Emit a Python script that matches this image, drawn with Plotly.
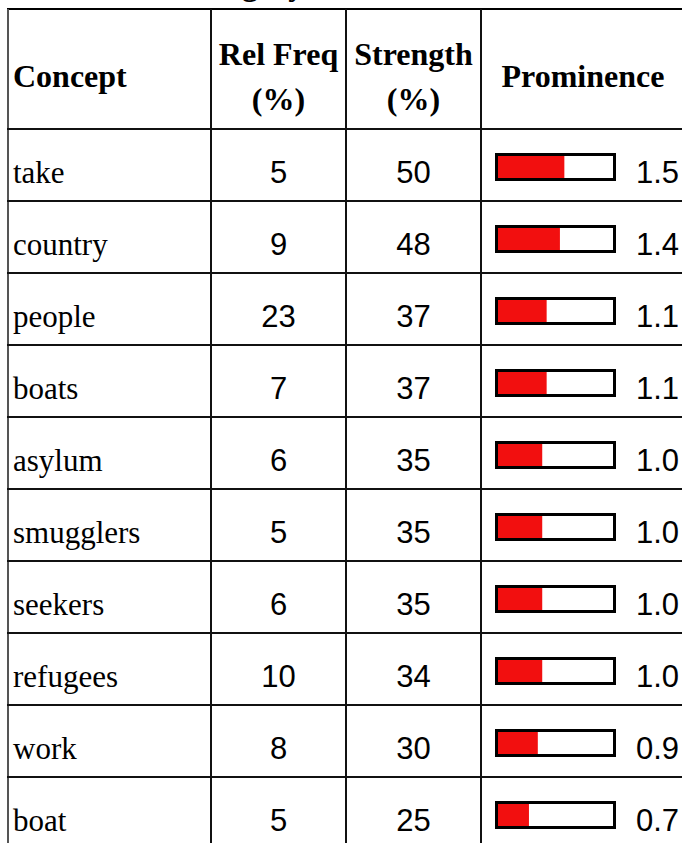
import plotly.graph_objects as go

# ---- data ----
concepts = ["take", "country", "people", "boats", "asylum", "smugglers",
            "seekers", "refugees", "work", "boat"]
rel_freq = [5, 9, 23, 7, 6, 5, 6, 10, 8, 5]
strength = [50, 48, 37, 37, 35, 35, 35, 34, 30, 25]
prominence = [1.5, 1.4, 1.1, 1.1, 1.0, 1.0, 1.0, 1.0, 0.9, 0.7]
headers = ["Concept", "Rel Freq|(%)", "Strength|(%)", "Prominence"]
title_text = "Category"
PROM_MAX = 2.6

# ---- layout constants (pixels) ----
W, H = 682, 843
TABLE_TOP = 9
HEADER_BOTTOM = 129
ROW_H = 72
COL_EDGES = [7, 211, 346, 481, 685]
BAR_X0, BAR_X1 = 498, 613          # inner bar area
TEXT_DY = 10 / ROW_H
NUM_DY = 10 / ROW_H
BAR_DY = 2 / ROW_H
BAR_H = 22 / ROW_H

SERIF = "Liberation Serif, Times New Roman, serif"
SANS = "Liberation Sans, Arial, sans-serif"
RED = "#f20f0f"


def yv(p):
    return (p - HEADER_BOTTOM) / ROW_H


n = len(concepts)
row_c = [i + 0.5 for i in range(n)]
text_y = [c + TEXT_DY for c in row_c]
num_y = [c + NUM_DY for c in row_c]
col_c = [(COL_EDGES[k] + COL_EDGES[k + 1]) / 2 for k in range(4)]

fig = go.Figure()

# concept column
fig.add_trace(go.Scatter(
    x=[COL_EDGES[0] + 6] * n, y=text_y, text=concepts, mode="text",
    textposition="middle right", cliponaxis=False, hoverinfo="skip",
    textfont=dict(family=SERIF, size=31, color="black")))
# rel freq
fig.add_trace(go.Scatter(
    x=[col_c[1]] * n, y=num_y, text=[str(v) for v in rel_freq], mode="text",
    textposition="middle center", cliponaxis=False, hoverinfo="skip",
    textfont=dict(family=SANS, size=31, color="black")))
# strength
fig.add_trace(go.Scatter(
    x=[col_c[2]] * n, y=num_y, text=[str(v) for v in strength], mode="text",
    textposition="middle center", cliponaxis=False, hoverinfo="skip",
    textfont=dict(family=SANS, size=31, color="black")))
# prominence value
fig.add_trace(go.Scatter(
    x=[W - 3] * n, y=num_y, text=[f"{v:.1f}" for v in prominence], mode="text",
    textposition="middle left", cliponaxis=False, hoverinfo="skip",
    textfont=dict(family=SANS, size=31, color="black")))

# header texts
for k, h in enumerate(headers):
    lines = h.split("|")
    ys = [yv(79)] if len(lines) == 1 else [yv(57), yv(102)]
    if k == 0:
        xs, pos = [COL_EDGES[0] + 6] * len(lines), "middle right"
    else:
        xs, pos = [col_c[k]] * len(lines), "middle center"
    fig.add_trace(go.Scatter(
        x=xs, y=ys, text=[f"<b>{t}</b>" for t in lines], mode="text",
        textposition=pos, cliponaxis=False, hoverinfo="skip",
        textfont=dict(family=SERIF, size=32, color="black")))

# prominence bars
fig.add_trace(go.Bar(
    x=prominence, y=[c + BAR_DY for c in row_c], orientation="h",
    width=BAR_H, marker=dict(color=RED, line=dict(width=0)),
    xaxis="x2", yaxis="y", hoverinfo="skip"))

shapes = []
line_col = "#111"
# bar frames
for c in row_c:
    cy = c + BAR_DY
    shapes.append(dict(type="rect", xref="x2 domain", yref="y",
                       x0=-1.5 / (BAR_X1 - BAR_X0), x1=1 + 1.5 / (BAR_X1 - BAR_X0),
                       y0=cy - BAR_H / 2 - 1.5 / ROW_H, y1=cy + BAR_H / 2 + 1.5 / ROW_H,
                       line=dict(color="black", width=3), layer="above"))
# top border
shapes.append(dict(type="line", xref="x", yref="y", x0=COL_EDGES[0], x1=W,
                   y0=yv(TABLE_TOP), y1=yv(TABLE_TOP), line=dict(color="black", width=2)))
# left border
shapes.append(dict(type="line", xref="x", yref="y", x0=COL_EDGES[0] + 1, x1=COL_EDGES[0] + 1,
                   y0=yv(TABLE_TOP), y1=yv(H + 5), line=dict(color="#555", width=2)))
# column lines
for xe in COL_EDGES[1:4]:
    shapes.append(dict(type="line", xref="x", yref="y", x0=xe, x1=xe,
                       y0=yv(TABLE_TOP), y1=yv(H + 5), line=dict(color=line_col, width=2)))
# row lines
for i in range(n + 1):
    shapes.append(dict(type="line", xref="x", yref="y", x0=COL_EDGES[0], x1=W,
                       y0=i, y1=i, line=dict(color=line_col, width=2)))

fig.update_layout(
    width=W, height=H, margin=dict(l=0, r=0, t=0, b=0),
    paper_bgcolor="white", plot_bgcolor="rgba(0,0,0,0)", showlegend=False,
    xaxis=dict(range=[0, W], visible=False, fixedrange=True, domain=[0, 1]),
    xaxis2=dict(range=[0, PROM_MAX], visible=False, fixedrange=True,
                domain=[BAR_X0 / W, BAR_X1 / W], anchor="y"),
    yaxis=dict(range=[yv(H), yv(0)], visible=False, fixedrange=True),
    shapes=shapes,
    annotations=[dict(text=f"<b>{title_text}</b>", xref="paper", yref="paper",
                      x=241 / W, y=1 - 4 / H, xanchor="center", yanchor="bottom",
                      showarrow=False, font=dict(family=SERIF, size=32, color="black"))],
)

fig.write_html("out.html", config={"staticPlot": True},
               post_script="document.body.style.margin='0';")
